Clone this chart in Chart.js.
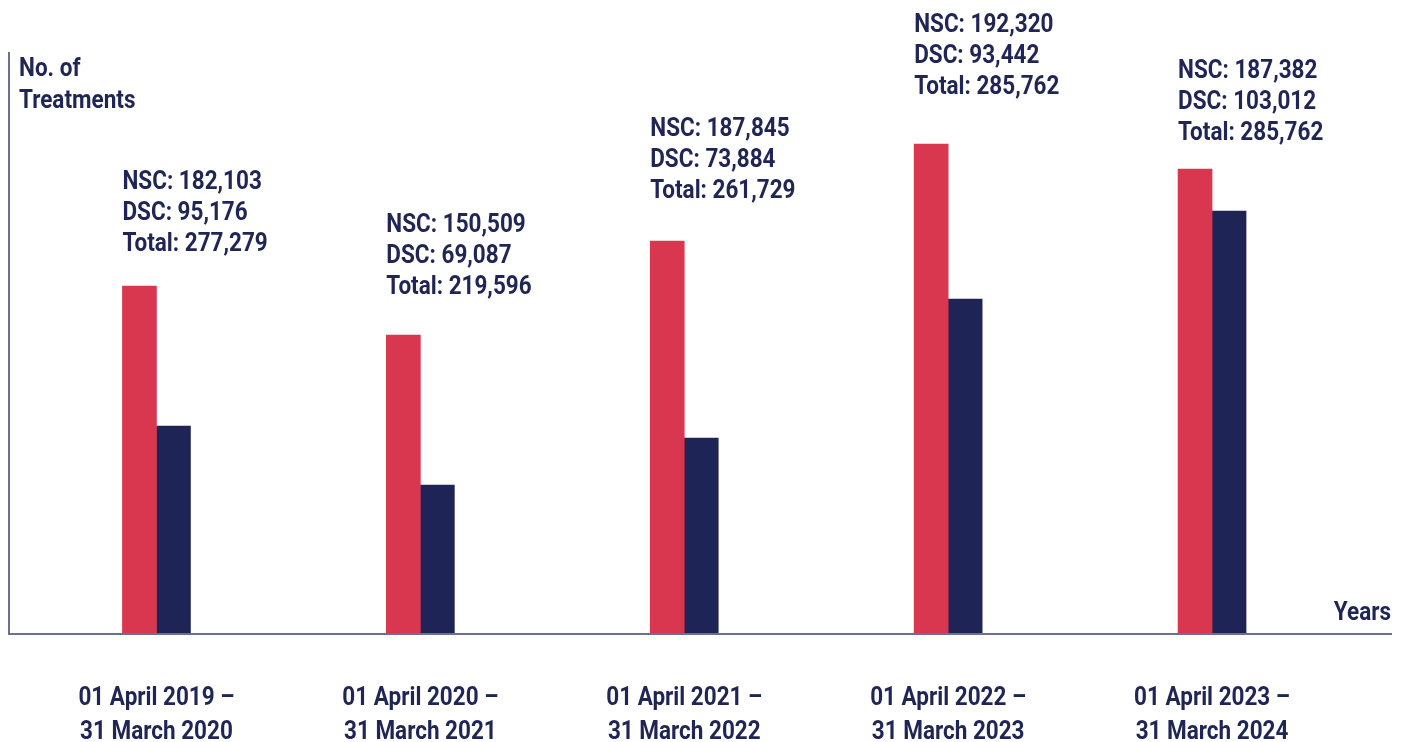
<!DOCTYPE html>
<html>
<head>
<meta charset="utf-8">
<script src="https://cdn.jsdelivr.net/npm/chart.js"></script>
<style>
  html, body { margin: 0; padding: 0; background: #fff; }
  #wrap { width: 1408px; height: 742px; position: relative; }
</style>
</head>
<body>
<div id="wrap"><canvas id="grafica"></canvas></div>
<script>
// categorias (dos lineas por etiqueta)
const periodos = [
    ['01 April 2019 \u2013', '31 March 2020'],
    ['01 April 2020 \u2013', '31 March 2021'],
    ['01 April 2021 \u2013', '31 March 2022'],
    ['01 April 2022 \u2013', '31 March 2023'],
    ['01 April 2023 \u2013', '31 March 2024']
];

// alturas de las barras tal como se ven en la imagen (escala sin ticks)
const barrasNSC = [348, 299, 393, 490, 465];
const barrasDSC = [208, 149, 196, 335, 423];

// valores escritos encima de cada grupo
const textoNSC = ['182,103', '150,509', '187,845', '192,320', '187,382'];
const textoDSC = ['95,176', '69,087', '73,884', '93,442', '103,012'];
const textoTotal = ['277,279', '219,596', '261,729', '285,762', '285,762'];

const colorTexto = '#1f2555';
const colorEje = '#6a6f96';

function escribir(ctx, texto, x, y, align) {
    ctx.save();
    ctx.translate(x, y);
    ctx.scale(0.9, 1);
    ctx.textAlign = align;
    ctx.fillText(texto, 0, 0);
    ctx.restore();
}

const etiquetasPlugin = {
    id: 'etiquetas',
    afterDraw(chart, args, opts) {
        const ctx = chart.ctx;
        const base = chart.scales.y.getPixelForValue(0);

        // ejes
        ctx.save();
        ctx.strokeStyle = colorEje;
        ctx.lineWidth = 2;
        ctx.beginPath();
        ctx.moveTo(9, 52);
        ctx.lineTo(9, base);
        ctx.lineTo(1392, base);
        ctx.stroke();

        ctx.fillStyle = colorTexto;
        ctx.font = 'bold 25px Roboto';
        ctx.textBaseline = 'middle';

        escribir(ctx, 'No. of', 19, 70, 'left');
        escribir(ctx, 'Treatments', 19, 102, 'left');
        escribir(ctx, 'Years', 1391, 614, 'right');

        const metaNSC = chart.getDatasetMeta(0);
        periodos.forEach((p, i) => {
            const bar = metaNSC.data[i];
            const izq = bar.x - bar.width / 2;
            const yTotal = bar.y - opts.separacion[i] + 2;
            escribir(ctx, 'NSC: ' + textoNSC[i], izq, yTotal - 62, 'left');
            escribir(ctx, 'DSC: ' + textoDSC[i], izq, yTotal - 31, 'left');
            escribir(ctx, 'Total: ' + textoTotal[i], izq, yTotal, 'left');

            const cx = chart.scales.x.getPixelForValue(i);
            escribir(ctx, p[0], cx, 699, 'center');
            escribir(ctx, p[1], cx, 733, 'center');
        });
        ctx.restore();
    }
};

const ctx = document.getElementById('grafica').getContext('2d');

const miGrafica = new Chart(ctx, {
    type: 'bar',
    data: {
        labels: periodos.map(p => p.join(' ')),
        datasets: [{
            label: 'NSC',
            data: barrasNSC,
            backgroundColor: '#d9374f',
            barThickness: 34
        }, {
            label: 'DSC',
            data: barrasDSC,
            backgroundColor: '#1f2456',
            barThickness: 34
        }]
    },
    options: {
        responsive: true,
        maintainAspectRatio: false,
        animation: false,
        layout: {
            padding: { left: 24.5, right: 64, top: 34, bottom: 108 }
        },
        scales: {
            x: { display: false },
            y: { display: false, min: 0, max: 600 }
        },
        plugins: {
            legend: { display: false },
            tooltip: { enabled: false },
            etiquetas: { separacion: [43, 49, 51, 58, 37] }
        }
    },
    plugins: [etiquetasPlugin]
});
</script>
</body>
</html>
